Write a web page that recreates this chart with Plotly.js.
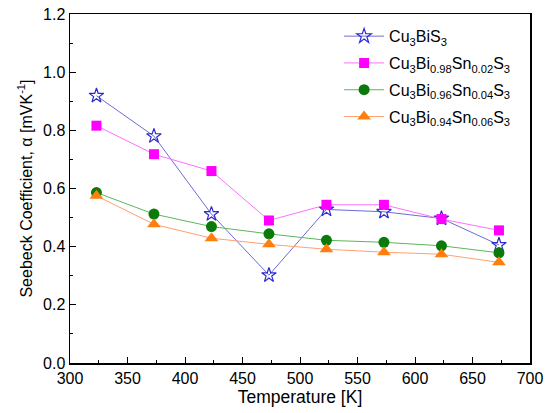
<!DOCTYPE html>
<html><head><meta charset="utf-8">
<script src="https://cdn.plot.ly/plotly-3.0.1.min.js"></script>
<style>html,body{margin:0;padding:0;background:#fff}</style>
</head><body><div id="chart" style="width:550px;height:413px"></div>
<script>
const temps = [323, 373, 423, 473, 523, 573, 623, 673];
const names = ["Cu<sub>3</sub>BiS<sub>3</sub>",
  "Cu<sub>3</sub>Bi<sub>0.98</sub>Sn<sub>0.02</sub>S<sub>3</sub>",
  "Cu<sub>3</sub>Bi<sub>0.96</sub>Sn<sub>0.04</sub>S<sub>3</sub>",
  "Cu<sub>3</sub>Bi<sub>0.94</sub>Sn<sub>0.06</sub>S<sub>3</sub>"];
const s0 = [0.919, 0.780, 0.512, 0.302, 0.528, 0.520, 0.497, 0.406];
const s2 = [0.816, 0.718, 0.660, 0.490, 0.544, 0.544, 0.495, 0.456];
const s4 = [0.586, 0.512, 0.469, 0.444, 0.422, 0.415, 0.403, 0.379];
const s6 = [0.575, 0.477, 0.429, 0.408, 0.391, 0.381, 0.374, 0.346];

const traces = [
  {x: temps, y: s0, name: names[0], legendgroup: 'a', mode: 'lines+markers',
   line: {color: '#6b6bd6', width: 1},
   marker: {symbol: 'star-open', size: 11, color: '#2a2ad0', line: {width: 1.2, color: '#2a2ad0'}}},
  {x: temps, y: s2, name: names[1], legendgroup: 'b', mode: 'lines+markers',
   line: {color: '#ff70ff', width: 1},
   marker: {symbol: 'square', size: 10, color: '#ff00ff'}},
  {x: temps, y: s4, name: names[2], legendgroup: 'c', mode: 'lines+markers',
   line: {color: '#5cb85c', width: 1},
   marker: {symbol: 'circle', size: 11, color: '#0a7a0a'}},
  {x: temps, y: s6, name: names[3], legendgroup: 'd', mode: 'lines+markers',
   line: {color: '#ffa070', width: 1},
   marker: {symbol: 'triangle-up', size: 12, color: '#ff7f0e'}}
];

const layout = {
  width: 550, height: 413,
  margin: {l: 70, r: 20, t: 14, b: 50},
  paper_bgcolor: '#fff', plot_bgcolor: '#fff',
  font: {family: 'Arial, "Liberation Sans", sans-serif', size: 16, color: '#000'},
  showlegend: true,
  legend: {x: 0.585, y: 0.985, xanchor: 'left', yanchor: 'top', bgcolor: 'rgba(0,0,0,0)',
    font: {size: 16}, tracegroupgap: 3, itemwidth: 40},
  xaxis: {range: [300, 700], dtick: 50, tick0: 300, showgrid: false, zeroline: false,
    showline: true, linecolor: '#000', linewidth: 1.5, mirror: true,
    ticks: 'inside', ticklen: 6, tickcolor: '#000',
    minor: {dtick: 25, ticks: 'inside', ticklen: 3, tickcolor: '#000'},
    title: {text: 'Temperature [K]', font: {size: 17.5}, standoff: 0}},
  yaxis: {range: [0, 1.2], dtick: 0.2, tickformat: '.1f', showgrid: false, zeroline: false,
    showline: true, linecolor: '#000', linewidth: 1.5, mirror: true,
    ticks: 'inside', ticklen: 6, tickcolor: '#000',
    minor: {dtick: 0.1, ticks: 'inside', ticklen: 3, tickcolor: '#000'},
    title: {text: 'Seebeck Coefficient, α [mVK<sup>-1</sup>]', font: {size: 16}, standoff: 6}}
};
Plotly.newPlot('chart', traces, layout, {staticPlot: true, displayModeBar: false});
</script></body></html>
